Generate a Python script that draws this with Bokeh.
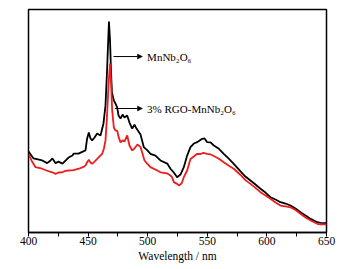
from bokeh.plotting import figure
from bokeh.models import Range1d, Label, Arrow, NormalHead, FixedTicker, Title
from bokeh.embed import file_html
from bokeh.resources import INLINE

# MnNb2O6 (black curve)
wavelength_black = [400, 404.2, 411.5, 415.7, 418.5, 420.1, 422.7, 425.2, 428.5, 433.6, 436.9, 437.8, 441.9,
                    447.8, 449.2, 450.6, 452, 453.4, 455.4, 457.6, 460.4, 462.9, 464.6, 465.9, 466.7, 467.5,
                    468.4, 469.2, 470, 471.6, 473, 474.4, 475.5, 477.2, 478.9, 480.5, 482.8, 484.7, 487,
                    488.9, 490.6, 492.3, 494, 496.7, 499.8, 502.3, 506.5, 510.7, 516.4, 519.1, 521.9, 524.7,
                    527.5, 530.3, 533.1, 535.9, 538.7, 541.5, 545.7, 547.7, 549.9, 552.7, 555.5, 559.4,
                    563.8, 567.8, 572.2, 577.9, 582, 586.2, 590.4, 594.6, 598.8, 603, 607.2, 611.4, 615.6,
                    619.8, 624, 628.2, 632.4, 636.7, 642.2, 645, 650]
intensity_black = [36.3, 33.2, 32.3, 31.1, 32.3, 33.2, 31.1, 31.8, 30.9, 33.6, 34.5, 35.4, 35.4,
                   36.8, 42.2, 44.8, 42.2, 41.3, 42.6, 44.4, 43.5, 48.9, 57, 72.6, 83.9, 94.6,
                   86.1, 72.6, 62.8, 59.2, 57.8, 56.1, 52.5, 51.1, 52.9, 51.6, 52.5, 49.3, 46.6,
                   48.4, 46.6, 45.3, 43.9, 38.3, 36.8, 35.3, 34.5, 32.3, 30.9, 28.6, 26.9, 24.8,
                   26, 29.3, 34.5, 38.3, 39.9, 40.5, 42, 42.2, 40.5, 40.4, 39, 37.7,
                   35.3, 33.2, 30.8, 27.4, 25.1, 23.3, 21.5, 19.6, 17.9, 15.8, 14.8, 13.6, 13,
                   12.1, 10.8, 9.1, 7.6, 6.1, 4.6, 4.3, 4.2]

# 3% RGO-MnNb2O6 (red curve)
wavelength_red = [400, 402.5, 405.9, 411.5, 415.1, 419.9, 422.7, 425.2, 428.3, 431, 433.8, 437.8, 442.2,
                  446.1, 447.8, 449.2, 450.6, 452, 453.4, 455.4, 457.6, 459.6, 461.8, 463.3, 464.6, 465.9,
                  467.1, 468.4, 469.2, 470.2, 471.6, 473, 474.4, 475.5, 477.2, 478.9, 480.5, 482.8, 484.7,
                  487, 488.9, 491.4, 494, 495.6, 497.3, 499.6, 502.3, 508, 510.7, 516.4, 519.1, 520.5,
                  521.9, 524.7, 526.1, 528.4, 530.3, 533.1, 535.9, 538.7, 541.5, 544.3, 546.8, 549.9,
                  552.7, 555.5, 559.4, 563.8, 567.8, 572.2, 577.9, 582, 586.2, 590.4, 594.6, 598.8, 603,
                  607.2, 611.4, 615.6, 619.8, 624, 628.2, 632.4, 636.7, 642.2, 645, 650]
intensity_red = [35.3, 32.3, 29.3, 28.6, 27.8, 27, 26.3, 26.9, 27, 27.6, 27.8, 28, 28.6,
                 29.4, 30, 31.5, 32.6, 31.4, 30.8, 31.8, 33, 34.1, 35.3, 37.7, 41.3, 52.5,
                 65.9, 75.8, 68.2, 54.7, 47.1, 45.7, 45.7, 43, 40.4, 41.3, 40.8, 43.5, 39,
                 36.8, 37.7, 39.5, 38.3, 35.4, 32.3, 30.9, 29.3, 27.8, 27, 26.5, 25.6, 24.7,
                 22.6, 21.8, 21.1, 22, 24.8, 27.8, 33, 34.1, 35.3, 35.2, 35.7, 35.3,
                 35, 34.3, 33.2, 31.5, 30, 28.6, 25.8, 23.5, 21.8, 20, 18.1, 16.6, 15.1,
                 13.5, 12.1, 11.7, 11.3, 10.1, 8.4, 6.7, 5.4, 3.9, 3.6, 3.6]

x_ticks = [400, 450, 500, 550, 600, 650]
x_minor_ticks = [425, 475, 525, 575, 625]
x_title = "Wavelength / nm"

FONT = "Liberation Serif"

p = figure(width=348, height=269, output_backend="svg", toolbar_location=None,
           x_range=Range1d(400, 650), y_range=Range1d(0, 100),
           min_border_left=28, min_border_right=22, min_border_top=9, min_border_bottom=37)

p.background_fill_color = "white"
p.border_fill_color = "white"
p.outline_line_color = "black"
p.outline_line_width = 1.5
p.xgrid.visible = False
p.ygrid.visible = False
p.yaxis.visible = False

p.xaxis.ticker = FixedTicker(ticks=x_ticks, minor_ticks=x_minor_ticks)
p.xaxis.axis_line_color = "black"
p.xaxis.axis_line_width = 1.5
p.xaxis.major_tick_in = 0
p.xaxis.major_tick_out = 4
p.xaxis.minor_tick_in = 0
p.xaxis.minor_tick_out = 4
p.xaxis.major_tick_line_color = "black"
p.xaxis.minor_tick_line_color = "black"
p.xaxis.major_label_text_font = FONT
p.xaxis.major_label_text_font_size = "11.5px"
p.xaxis.major_label_text_line_height = 1.0
p.xaxis.major_label_text_color = "black"
p.xaxis.major_label_standoff = 0

p.line(wavelength_black, intensity_black, line_color="black", line_width=1.8)
p.line(wavelength_red, intensity_red, line_color="#ee1c1c", line_width=1.8)

# x-axis title, as a title panel below the axis
p.add_layout(Title(text=x_title, align="center", offset=-5, standoff=0,
                   text_font=FONT, text_font_size="11.5px", text_font_style="normal",
                   text_line_height=1.0, text_color="black"), "below")

arrow_y1 = 78.9
arrow_y2 = 55.6
p.add_layout(Arrow(end=NormalHead(size=5, fill_color="black", line_color="black", line_width=0.5),
                   x_start=471.3, y_start=arrow_y1, x_end=495.6, y_end=arrow_y1,
                   line_color="black", line_width=1))
p.add_layout(Arrow(end=NormalHead(size=5, fill_color="black", line_color="black", line_width=0.5),
                   x_start=472.5, y_start=arrow_y2, x_end=495.6, y_end=arrow_y2,
                   line_color="black", line_width=1))
p.add_layout(Label(x=499.5, y=arrow_y1, text="MnNb₂O₆", text_font=FONT, text_font_size="11px",
                   text_baseline="middle", text_color="black"))
p.add_layout(Label(x=499.5, y=arrow_y2, text="3% RGO-MnNb₂O₆", text_font=FONT, text_font_size="11px",
                   text_baseline="middle", text_color="black"))

open("out.html", "w").write(file_html(p, INLINE))
